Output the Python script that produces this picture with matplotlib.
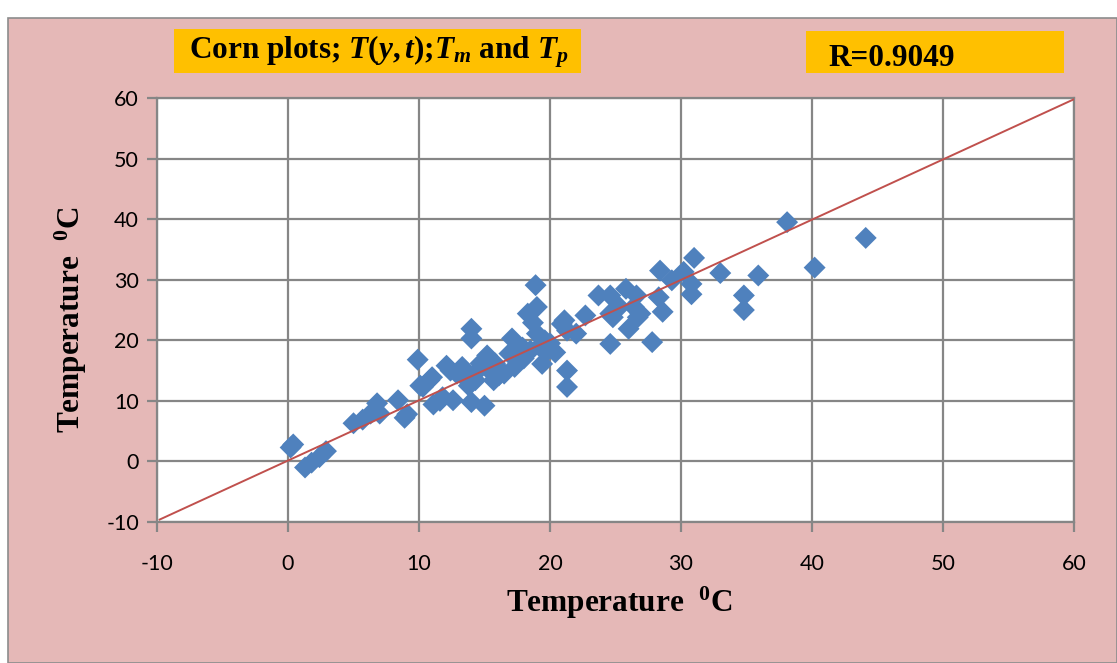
import matplotlib
matplotlib.use("Agg")
import matplotlib.pyplot as plt
from matplotlib.patches import Rectangle

# ---- data ----
x_vals = [0.2, 0.4, 1.3, 1.8, 2.4, 2.9, 5.0, 5.7, 6.3, 6.8, 7.0, 8.4, 8.9, 9.1,
          9.9, 10.1, 10.3, 10.8, 11.0, 11.1, 11.6, 11.8, 12.1, 12.4, 12.6, 12.9,
          13.3, 13.5, 13.8, 14.0, 14.0, 14.0, 14.3, 14.5, 14.7, 15.0, 15.2, 15.4,
          15.7, 15.8, 16.1, 16.5, 16.9, 17.1, 17.3, 17.9, 18.0, 18.3, 18.5, 18.7,
          18.9, 19.0, 19.0, 19.2, 19.4, 19.6, 19.8, 20.0, 20.4, 20.9, 21.1, 21.3,
          21.3, 21.3, 22.0, 22.7, 23.7, 24.6, 24.6, 24.8, 24.6, 25.3, 25.8, 26.0,
          26.4, 26.6, 26.9, 26.7, 27.8, 28.3, 28.4, 28.6, 29.3, 30.2, 30.8, 30.8,
          31.0, 33.0, 34.8, 34.8, 35.9, 38.1, 40.2, 44.1]
y_vals = [2.3, 2.8, -1.0, -0.2, 0.7, 1.7, 6.3, 6.9, 7.9, 9.6, 7.9, 10.1, 7.2, 7.8,
          16.8, 12.5, 12.3, 13.4, 13.9, 9.4, 10.0, 10.6, 15.8, 15.0, 10.1, 14.5,
          15.6, 13.8, 12.5, 21.9, 20.3, 9.8, 13.4, 15.0, 16.2, 9.2, 17.5, 15.0,
          13.4, 16.2, 14.2, 14.5, 17.8, 20.3, 15.6, 18.8, 17.0, 24.4, 18.3, 22.9,
          29.1, 25.5, 21.1, 19.0, 16.1, 20.0, 18.3, 19.5, 18.0, 22.7, 23.3, 21.6,
          15.0, 12.3, 21.1, 24.1, 27.4, 27.4, 19.4, 23.8, 24.4, 25.5, 28.5, 21.9,
          25.5, 27.4, 24.4, 23.8, 19.7, 27.1, 31.5, 24.7, 29.9, 31.3, 29.3, 27.6,
          33.6, 31.1, 27.4, 25.0, 30.7, 39.5, 32.0, 36.9]
line_x = [-9.8, 60]
line_y = [-9.6, 59.8]
ticks = [-10, 0, 10, 20, 30, 40, 50, 60]
title_text = r"Corn plots; $T(y,t)$;$T_m$ and $T_p$"
r_text = "R=0.9049"
axis_label = r"Temperature  $^{\mathbf{0}}$C"

plt.rcParams['mathtext.fontset'] = 'custom'
plt.rcParams['mathtext.rm'] = 'Liberation Serif:bold'
plt.rcParams['mathtext.it'] = 'Liberation Serif:bold:italic'
plt.rcParams['mathtext.bf'] = 'Liberation Serif:bold'
plt.rcParams['axes.unicode_minus'] = False

W, H = 1117, 663
fig = plt.figure(figsize=(W / 100, H / 100), dpi=100)
fig.patch.set_facecolor('white')

# pink chart area
fig.patches.append(Rectangle((8 / W, 0), 1 - 8 / W, 1 - 18 / H, transform=fig.transFigure,
                             facecolor='#E5B8B7', edgecolor='#8C8C8C', linewidth=1.2, zorder=-10))

# title boxes
fig.patches.append(Rectangle((174 / W, 1 - 73 / H), (581 - 174) / W, 44 / H,
                             transform=fig.transFigure, facecolor='#FFC000', edgecolor='none', zorder=-9))
fig.patches.append(Rectangle((806 / W, 1 - 73 / H), (1064 - 806) / W, 42 / H,
                             transform=fig.transFigure, facecolor='#FFC000', edgecolor='none', zorder=-9))
fig.text(189 / W, 1 - 52 / H, title_text, fontsize=22.5, fontweight='bold',
         family='Liberation Serif', va='center', ha='left', zorder=2)
fig.text(828 / W, 1 - 58 / H, r_text, fontsize=22.5, fontweight='bold',
         family='Liberation Serif', va='center', ha='left', zorder=2)

ax = fig.add_axes([157 / W, 1 - 522 / H, (1074 - 157) / W, (522 - 98) / H])
ax.set_facecolor('white')
ax.set_xlim(-10, 60)
ax.set_ylim(-10, 60)
ax.set_xticks(ticks)
ax.set_yticks(ticks)
ax.grid(True, color='#868686', linewidth=1.6)
ax.set_axisbelow(True)
for s in ax.spines.values():
    s.set_color('#868686')
    s.set_linewidth(1.6)
ax.tick_params(axis='both', direction='out', color='#868686', width=1.6, length=7,
               labelsize=15.5, labelcolor='black')
ax.tick_params(axis='x', pad=16)
ax.tick_params(axis='y', pad=6)
for lbl in ax.get_xticklabels() + ax.get_yticklabels():
    lbl.set_family(['Lato', 'Liberation Sans'])

ax.scatter(x_vals, y_vals, marker='D', s=125, color='#4F81BD', edgecolors='none', zorder=3)
ax.plot(line_x, line_y, color='#C0504D', linewidth=1.4, zorder=4)

ax.set_xlabel(axis_label, fontsize=22.5, fontweight='bold', family='Liberation Serif')
ax.set_ylabel(axis_label, fontsize=22.5, fontweight='bold', family='Liberation Serif')
# place labels where the reference has them (pixel positions -> axes fraction)
ax.xaxis.set_label_coords((619 - 157) / (1074 - 157), -(603 - 522) / (522 - 98), transform=ax.transAxes)
ax.xaxis.label.set_va('center')
ax.yaxis.set_label_coords(-(157 - 71) / (1074 - 157), (522 - 320) / (522 - 98), transform=ax.transAxes)
ax.yaxis.label.set_va('center')

fig.savefig('out.png', dpi=100, facecolor=fig.get_facecolor())
